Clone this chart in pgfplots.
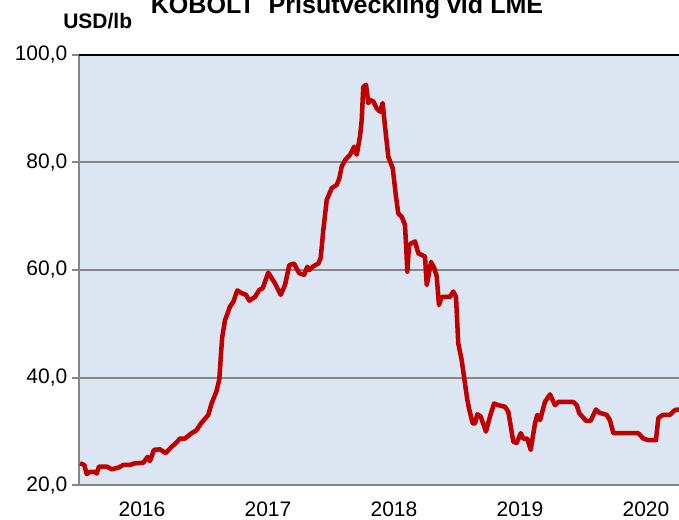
\documentclass[border=0pt]{standalone}
\usepackage{fontspec}
\setmainfont{Liberation Sans}
\usepackage{pgfplots}
\pgfplotsset{compat=1.18}
\definecolor{bgblue}{RGB}{220,230,242}
\definecolor{linered}{RGB}{192,0,0}
\definecolor{axgray}{RGB}{134,134,134}

% cobalt price, decimal year vs USD/lb
\pgfplotstableread{
x y
2016.008 24.1
2016.042 23.8
2016.061 22.1
2016.087 22.5
2016.127 22.5
2016.140 22.2
2016.159 23.5
2016.220 23.5
2016.260 23.0
2016.312 23.3
2016.352 23.8
2016.405 23.8
2016.444 24.1
2016.510 24.2
2016.545 25.3
2016.563 24.5
2016.595 26.6
2016.643 26.7
2016.688 26.0
2016.736 27.2
2016.762 27.7
2016.802 28.7
2016.841 28.7
2016.894 29.7
2016.931 30.2
2016.968 31.5
2017.026 33.1
2017.052 35.2
2017.090 37.4
2017.113 39.6
2017.129 45.1
2017.137 47.6
2017.159 50.7
2017.169 51.3
2017.198 53.2
2017.225 54.1
2017.256 56.2
2017.291 55.7
2017.325 55.4
2017.352 54.3
2017.397 55.0
2017.431 56.3
2017.458 56.6
2017.502 59.5
2017.556 57.5
2017.601 55.4
2017.635 57.2
2017.669 60.9
2017.706 61.2
2017.748 59.4
2017.786 59.1
2017.812 60.6
2017.828 60.0
2017.860 60.7
2017.899 61.2
2017.918 62.2
2017.939 67.4
2017.966 73.0
2018.006 75.2
2018.045 75.8
2018.066 77.0
2018.085 79.2
2018.111 80.4
2018.151 81.4
2018.172 82.3
2018.183 82.9
2018.204 81.4
2018.230 84.8
2018.244 87.9
2018.256 94.0
2018.278 94.4
2018.296 91.0
2018.310 91.6
2018.336 91.3
2018.363 90.0
2018.389 89.4
2018.410 91.0
2018.429 86.6
2018.442 83.8
2018.455 81.0
2018.490 78.9
2018.516 73.6
2018.534 70.5
2018.561 69.9
2018.587 68.4
2018.595 65.0
2018.606 59.7
2018.619 64.6
2018.640 65.0
2018.667 65.3
2018.693 63.1
2018.720 62.8
2018.746 62.5
2018.760 57.2
2018.794 61.5
2018.820 60.3
2018.839 58.8
2018.857 53.5
2018.879 55.0
2018.944 55.0
2018.971 56.0
2018.992 55.0
2019.010 46.4
2019.037 43.3
2019.063 39.0
2019.082 35.9
2019.098 34.0
2019.125 31.5
2019.143 31.5
2019.161 33.2
2019.188 32.8
2019.230 30.0
2019.262 32.8
2019.294 35.2
2019.328 34.9
2019.381 34.6
2019.407 33.7
2019.447 28.1
2019.474 27.9
2019.506 29.7
2019.526 28.7
2019.558 28.7
2019.585 26.6
2019.619 31.5
2019.637 33.1
2019.659 32.1
2019.698 35.5
2019.738 36.9
2019.778 34.9
2019.804 35.5
2019.923 35.5
2019.950 34.9
2019.971 33.4
2020.024 32.0
2020.061 32.0
2020.103 34.1
2020.130 33.5
2020.188 33.1
2020.214 32.1
2020.241 29.7
2020.280 29.7
2020.439 29.7
2020.479 28.7
2020.518 28.4
2020.579 28.4
2020.598 32.5
2020.633 33.1
2020.690 33.1
2020.730 34.0
2020.762 34.1
}\cobalt

\begin{document}
\begin{tikzpicture}
\useasboundingbox (0,0) rectangle (509.25pt,389.25pt);
\clip (0,0) rectangle (509.25pt,389.25pt);
\begin{axis}[
    at={(59.25pt,25.2pt)}, anchor=south west,
    scale only axis, width=450pt, height=323.1pt,
    xmin=2016, xmax=2020.762, ymin=20, ymax=100,
    axis x line*=bottom, axis y line*=left,
    axis line style={axgray, line width=1.5pt},
    axis background/.style={fill=bgblue},
    tick align=center,
    ytick={20,40,60,80,100},
    ymajorgrids,
    grid style={axgray, line width=1.5pt},
    major tick length=10.5pt,
    ytick style={axgray, line width=1.5pt},
    xtick={2016.5,2017.5,2018.5,2019.5,2020.5},
    xticklabels={2016,2017,2018,2019,2020},
    xtick style={draw=none},
    minor xtick={2016,2017,2018,2019,2020},
    minor tick length=8.5pt,
    minor x tick style={axgray, line width=1.5pt},
    /pgf/number format/.cd, fixed, fixed zerofill, precision=1, use comma, assume math mode=true,
    /pgfplots/.cd,
    ticklabel style={font=\fontsize{15.75}{18}\selectfont},
    xticklabel style={inner sep=0pt, yshift=-7pt},
    clip=false,
]
\addplot[linered, line width=3.4pt, line join=round] table[x=x, y=y] {\cobalt};
\draw[black, line width=1.5pt] (axis cs:2016,100) -- (axis cs:2020.762,100);
\end{axis}
\node[anchor=base, font=\fontsize{18.8}{22}\selectfont\bfseries] at (260.25pt,378.75pt) {KOBOLT\ \ Prisutveckling vid LME};
\node[anchor=base west, inner sep=0pt, font=\fontsize{15.75}{18}\selectfont\bfseries] at (47.25pt,367.5pt) {USD/lb};
\end{tikzpicture}
\end{document}
